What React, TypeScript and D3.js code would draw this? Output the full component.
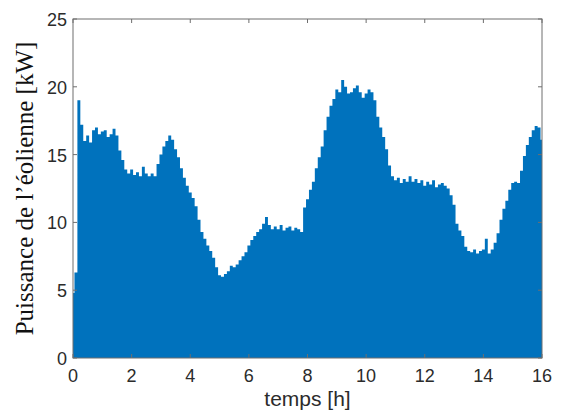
import React from "react";
import * as d3 from "d3";

// time in hours (step 0.1 h) and wind turbine power envelope in kW
const hours: number[] = Array.from({ length: 161 }, (_, i) => i / 10);
const power: number[] = [
  4.8, 6.3, 19.0, 17.2, 16.0, 16.4, 15.9, 16.8, 17.0, 16.5,
  16.7, 16.8, 16.3, 16.5, 16.9, 16.4, 15.3, 14.6, 13.9, 13.6,
  13.9, 13.5, 13.7, 13.4, 14.1, 13.6, 13.4, 13.6, 13.4, 14.3,
  15.0, 15.6, 16.0, 16.4, 16.1, 15.4, 14.8, 14.0, 13.3, 12.7,
  12.2, 11.8, 11.2, 10.2, 9.3, 8.8, 8.3, 7.9, 7.4, 6.7,
  6.1, 6.0, 6.2, 6.4, 6.8, 6.7, 6.9, 7.2, 7.5, 7.8,
  8.3, 8.7, 9.0, 9.3, 9.5, 9.9, 10.4, 9.8, 9.5, 9.7,
  9.5, 9.8, 9.4, 9.6, 9.7, 9.4, 9.6, 9.5, 9.3, 11.1,
  11.7, 12.4, 13.0, 14.0, 14.8, 15.6, 16.8, 17.8, 18.6, 19.1,
  19.8, 19.6, 20.5, 20.0, 19.5, 19.6, 19.9, 20.1, 19.6, 19.2,
  19.5, 19.8, 19.6, 19.0, 17.8, 17.0, 16.3, 15.4, 14.2, 13.4,
  13.1, 13.3, 12.9, 13.2, 13.0, 13.4, 13.0, 13.2, 12.9, 13.1,
  12.7, 13.0, 12.8, 13.1, 12.6, 12.8, 12.9, 12.7, 12.5, 12.0,
  11.3, 9.9, 9.4, 9.0, 8.2, 7.9, 7.8, 8.0, 7.7, 7.9,
  8.0, 8.8, 7.7, 8.0, 8.5, 9.2, 10.2, 11.0, 11.6, 12.4,
  12.9, 13.0, 12.9, 13.8, 14.9, 15.7, 16.3, 16.8, 17.1, 17.0,
  16.1,
];
const xTicks: number[] = [0, 2, 4, 6, 8, 10, 12, 14, 16];
const yTicks: number[] = [0, 5, 10, 15, 20, 25];
const xLabel = "temps [h]";
const yLabel = "Puissance de l\u2019\u00e9olienne [kW]";

export default function App() {
  const W = 561;
  const H = 412;
  const left = 73;
  const right = 542;
  const top = 19;
  const bottom = 358;
  const x = d3.scaleLinear().domain([0, 16]).range([left, right]);
  const y = d3.scaleLinear().domain([0, 25]).range([bottom, top]);
  const data = hours.map((h, i) => ({ h, p: power[i] }));
  const area = d3
    .area<{ h: number; p: number }>()
    .x((d) => x(d.h))
    .y0(y(0))
    .y1((d) => y(d.p))
    .curve(d3.curveStep);
  const axisColor = "#6e6e6e";
  const textColor = "#2b2b2b";
  const tickLen = 4;
  return (
    <svg
      width={W}
      height={H}
      style={{ position: "absolute", left: 0, top: 0, background: "#fff" }}
    >
      <rect x={0} y={0} width={W} height={H} fill="#fff" />
      <path d={area(data) || ""} fill="#0072BD" />
      {/* box */}
      <rect
        x={left}
        y={top}
        width={right - left}
        height={bottom - top}
        fill="none"
        stroke={axisColor}
        strokeWidth={1}
      />
      {xTicks.map((t) => (
        <g key={"xt" + t}>
          <line x1={x(t)} x2={x(t)} y1={top} y2={top + tickLen} stroke={axisColor} />
          <line x1={x(t)} x2={x(t)} y1={bottom} y2={bottom - tickLen} stroke={axisColor} />
          <text
            x={x(t)}
            y={382}
            textAnchor="middle"
            fontFamily="'Liberation Sans', Arial, sans-serif"
            fontSize={18}
            fill={textColor}
          >
            {t}
          </text>
        </g>
      ))}
      {yTicks.map((t) => (
        <g key={"yt" + t}>
          <line x1={left} x2={left + tickLen} y1={y(t)} y2={y(t)} stroke={axisColor} />
          <line x1={right} x2={right - tickLen} y1={y(t)} y2={y(t)} stroke={axisColor} />
          <text
            x={67}
            y={y(t) + 7}
            textAnchor="end"
            fontFamily="'Liberation Sans', Arial, sans-serif"
            fontSize={18}
            fill={textColor}
          >
            {t}
          </text>
        </g>
      ))}
      <text
        x={(left + right) / 2}
        y={406}
        textAnchor="middle"
        fontFamily="'Liberation Sans', Arial, sans-serif"
        fontSize={21}
        fill={textColor}
      >
        {xLabel}
      </text>
      <text
        transform={`translate(33, ${(37 + 340) / 2}) rotate(-90)`}
        textAnchor="middle"
        fontFamily="'Liberation Serif', 'Times New Roman', serif"
        fontSize={25}
        fill="#111"
      >
        {yLabel}
      </text>
    </svg>
  );
}
